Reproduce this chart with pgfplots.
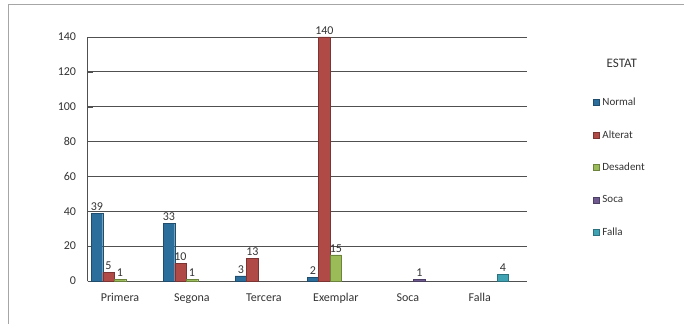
\documentclass[border=0pt]{standalone}
\usepackage{pgfplots}
\pgfplotsset{compat=1.18}
\usepackage{fontspec}
\setmainfont{Carlito}

\definecolor{cNormal}{HTML}{2B6E9C}
\definecolor{cAlterat}{HTML}{B04A47}
\definecolor{cDesadent}{HTML}{9BBB59}
\definecolor{cSoca}{HTML}{6E5A8E}
\definecolor{cFalla}{HTML}{3FA3B4}
\definecolor{txt}{HTML}{333333}
\definecolor{gridc}{HTML}{505050}

\begin{document}
\begin{tikzpicture}[x=1pt,y=1pt]
\useasboundingbox (0,0) rectangle (684,324);
\draw[black!35, line width=0.8pt] (8,0) -- (8,320) -- (684,320);
\begin{axis}[
  at={(87.6pt,43pt)}, anchor=south west,
  scale only axis, width=439pt, height=244pt,
  ybar=0pt, bar width=11.5pt,
  xmin=-0.45, xmax=5.65, ymin=0, ymax=140,
  xtick={0,...,5},
  xticklabels={Primera,Segona,Tercera,Exemplar,Soca,Falla},
  ytick={0,20,...,140},
  axis x line*=bottom, axis y line*=left,
  axis line style={gridc, line width=0.7pt},
  x axis line style={-}, y axis line style={-},
  ymajorgrids, grid style={gridc, line width=0.8pt},
  major tick length=5pt,
  xtick style={draw=none},
  ytick style={gridc},
  tick label style={font=\fontsize{12}{14}\selectfont, text=txt},
  xticklabel style={yshift=-4pt},
  yticklabel style={xshift=-8pt},
  /pgf/number format/assume math mode=true,
  clip=false,
  nodes near coords,
  every node near coord/.append style={font=\fontsize{12}{14}\selectfont, text=txt, yshift=-1pt},
  legend style={at={(1.144,0.768)}, anchor=north west, draw=none, fill=none,
    font=\fontsize{11}{13}\selectfont, text=txt, row sep=19.5pt,
    /tikz/every odd column/.append style={column sep=1pt}},
  legend cell align=left,
  legend image code/.code={\fill[#1] (0pt,-3pt) rectangle (6pt,3pt);},
]
\addplot[fill=cNormal, draw=cNormal!70!black] coordinates {(0,39) (1,33) (2,3) (3,2)};
\addplot[fill=cAlterat, draw=cAlterat!70!black] coordinates {(0,5) (1,10) (2,13) (3,140)};
\addplot[fill=cDesadent, draw=cDesadent!70!black] coordinates {(0,1) (1,1) (3,15)};
\addplot[fill=cSoca, draw=cSoca!70!black] coordinates {(4,1)};
\addplot[fill=cFalla, draw=cFalla!70!black] coordinates {(5,4)};
\legend{Normal,Alterat,Desadent,Soca,Falla}
\node[font=\fontsize{13}{15}\selectfont, text=txt] at (rel axis cs:1.217,0.893) {ESTAT};
\end{axis}
\end{tikzpicture}
\end{document}
